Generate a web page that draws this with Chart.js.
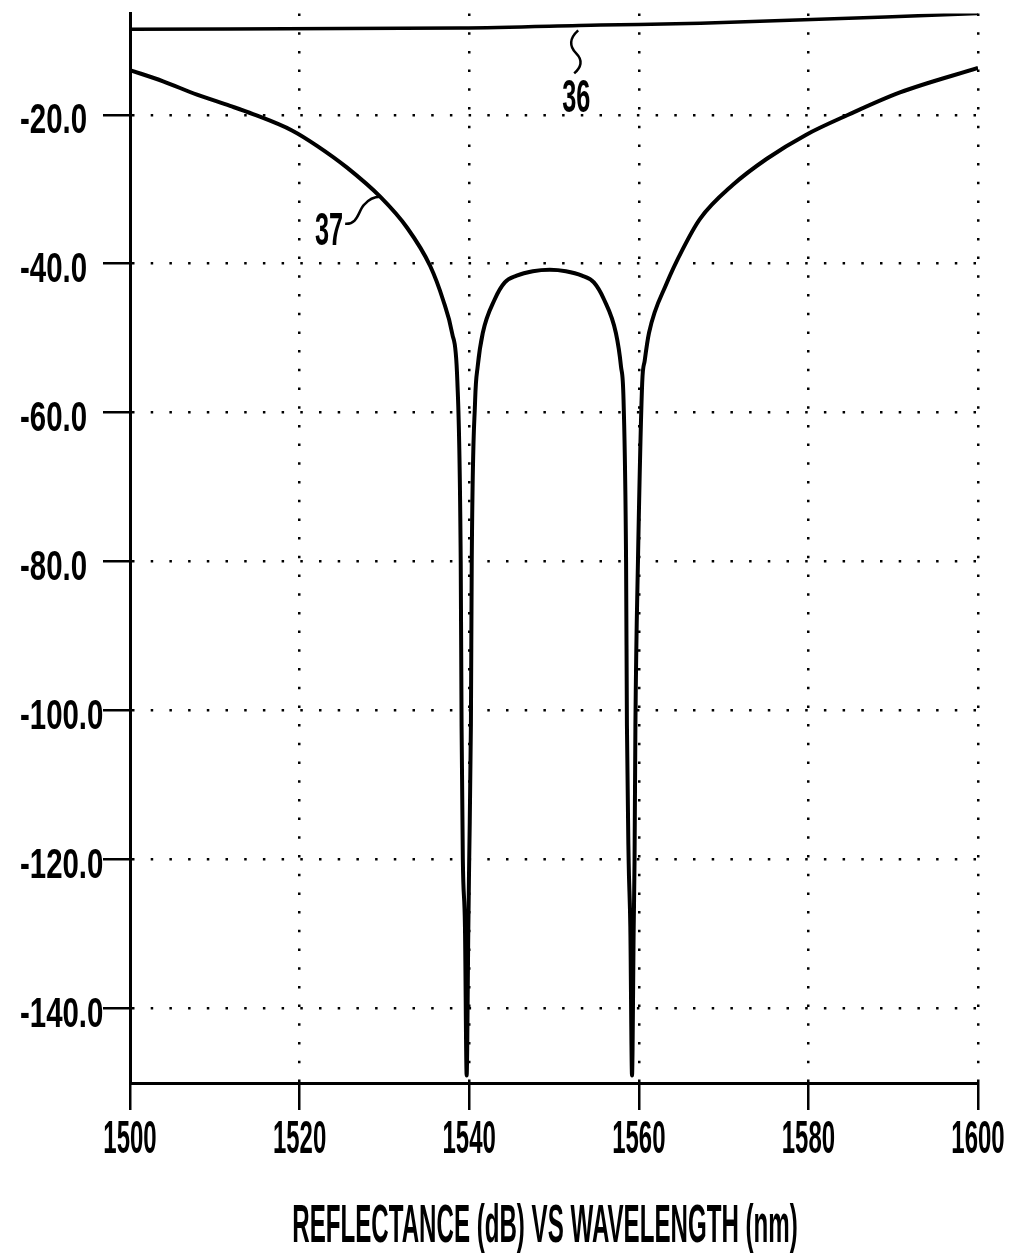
<!DOCTYPE html>
<html>
<head>
<meta charset="utf-8">
<script src="https://cdn.jsdelivr.net/npm/chart.js@4.4.0/dist/chart.umd.min.js"></script>
<style>
body{margin:0;background:#fff;}
</style>
</head>
<body>
<canvas id="grafico" width="1011" height="1259"></canvas>
<script>
// curva 37 - reflectancia (dB) x comprimento de onda (nm)
var wl37 = [1500,1503.9,1507.9,1511.8,1514.5,1519.1,1522.1,1525.6,1529.5,1532.7,1535.4,1536.9,1538.0,1538.6,1539.0,1539.1,1539.25,1539.5,1539.7,
  1539.9,1540.0,1540.2,1540.3,1540.7,1541.0,1541.6,1543.0,1544.2,1545.6,1547.5,1549.5,1551.4,1553.3,1554.7,1555.9,1557.3,1557.9,1558.2,1558.5,1558.6,1558.8,1559.0,1559.2,
  1559.4,1559.5,1559.6,1559.9,1560.4,1560.7,1561.2,1563.3,1565.2,1567.2,1571.1,1575.1,1579.7,1584.7,1590.8,1600];
var db37 = [-14.0,-15.5,-17.3,-18.8,-19.9,-22.1,-24.2,-27.1,-31.0,-35.2,-40.3,-44.8,-49.4,-55.7,-80,-102,-120,-129,-149,
  -129,-120,-102,-80,-58.3,-53.8,-49.3,-44.8,-42.5,-41.6,-41.0,-40.8,-41.0,-41.6,-42.5,-44.8,-49.3,-53.8,-58.3,-80,-102,-120,-129,-149,
  -129,-120,-102,-80,-56,-53,-49.3,-42.6,-38.0,-34.0,-29.4,-25.9,-22.7,-20,-17.0,-13.7];

// curva 36 - linha de cima
var wl36 = [1500,1539,1555.5,1567.3,1600];
var db36 = [-8.5,-8.35,-7.95,-7.7,-6.4];

var xTicks = [1500,1520,1540,1560,1580,1600];
var yTicks = [-20,-40,-60,-80,-100,-120,-140];
var titulo = 'REFLECTANCE (dB) VS WAVELENGTH (nm)';

var fonte = "'Liberation Sans', Arial, sans-serif";

function pontos(xs, ys){
  var r = [];
  xs.forEach(function(v, i){ r.push({x: v, y: ys[i]}); });
  return r;
}

// texto estreito (letra condensada igual ao desenho)
function texto(ctx, s, x, y, size, sx, align){
  ctx.save();
  ctx.translate(x, y);
  ctx.scale(sx, 1);
  ctx.font = 'bold ' + size + 'px ' + fonte;
  ctx.fillStyle = '#000';
  ctx.textAlign = align;
  ctx.textBaseline = 'alphabetic';
  ctx.fillText(s, 0, 0);
  ctx.restore();
}

// rotulos dos eixos, titulo e as marcas 36 / 37
var rotulos = {
  id: 'rotulos',
  afterDraw: function(chart){
    var ctx = chart.ctx;
    var sx = chart.scales.x, sy = chart.scales.y;

    sx.ticks.forEach(function(t){
      texto(ctx, String(t.value), sx.getPixelForValue(t.value), sx.top + 70, 47, 0.51, 'center');
    });
    sy.ticks.forEach(function(t){
      texto(ctx, t.value.toFixed(1), 20, sy.getPixelForValue(t.value) + 18, 42, 0.7, 'left');
    });
    texto(ctx, titulo, (sx.left + sx.right) / 2 - 9, chart.height - 17, 53, 0.455, 'center');

    ctx.save();
    ctx.strokeStyle = '#000';
    ctx.lineWidth = 2.5;

    // 37
    var px = sx.getPixelForValue(1529.5), py = sy.getPixelForValue(-31.0);
    ctx.beginPath();
    ctx.moveTo(px - 35, py + 27);
    ctx.bezierCurveTo(px - 22, py + 28, px - 22, py + 14, px - 16, py + 8);
    ctx.bezierCurveTo(px - 11, py + 2, px - 4, py, px, py);
    ctx.stroke();

    // 36
    var qx = sx.getPixelForValue(1552.5), qy = sy.getPixelForValue(-8.0);
    ctx.beginPath();
    ctx.moveTo(qx + 3, qy + 5);
    ctx.bezierCurveTo(qx - 6, qy + 13, qx - 6, qy + 21, qx + 1, qy + 28);
    ctx.bezierCurveTo(qx + 8, qy + 35, qx + 6, qy + 42, qx - 1, qy + 48);
    ctx.stroke();
    ctx.restore();

    texto(ctx, '37', px - 37, py + 48, 46, 0.55, 'right');
    texto(ctx, '36', qx + 1, qy + 87, 46, 0.55, 'center');
  }
};

var grafico = document.getElementById('grafico');

new Chart(grafico, {
  type: 'line',
  data: {
    datasets: [
      {
        label: '37',
        data: pontos(wl37, db37),
        borderColor: '#000',
        borderWidth: 4,
        pointRadius: 0,
        cubicInterpolationMode: 'monotone'
      },
      {
        label: '36',
        data: pontos(wl36, db36),
        borderColor: '#000',
        borderWidth: 3.5,
        pointRadius: 0,
        cubicInterpolationMode: 'monotone'
      }
    ]
  },
  options: {
    responsive: false,
    animation: false,
    layout: { padding: { left: 20, right: 33, top: 13.5, bottom: 0 } },
    plugins: {
      legend: { display: false },
      tooltip: { enabled: false }
    },
    scales: {
      x: {
        type: 'linear',
        min: 1500,
        max: 1600,
        afterBuildTicks: function(scale){
          scale.ticks = xTicks.map(function(v){ return {value: v}; });
        },
        afterFit: function(scale){
          scale.height = 176;
          scale.paddingLeft = 0;
          scale.paddingRight = 0;
        },
        grid: { color: '#000', lineWidth: 2.5, tickLength: 27, tickWidth: 2.5, tickColor: '#000' },
        border: { display: true, color: '#000', width: 3, dash: [2.5, 16.2] },
        ticks: { display: false }
      },
      y: {
        type: 'linear',
        min: -150,
        max: -6.4,
        afterBuildTicks: function(scale){
          scale.ticks = yTicks.map(function(v){ return {value: v}; });
        },
        afterFit: function(scale){
          scale.width = 110;
          scale.paddingTop = 0;
          scale.paddingBottom = 0;
        },
        grid: { color: '#000', lineWidth: 2.5, tickLength: 27, tickWidth: 2.5, tickColor: '#000' },
        border: { display: true, color: '#000', width: 3, dash: [2.5, 16.2] },
        ticks: { display: false }
      }
    }
  },
  plugins: [rotulos]
});
</script>
</body>
</html>
